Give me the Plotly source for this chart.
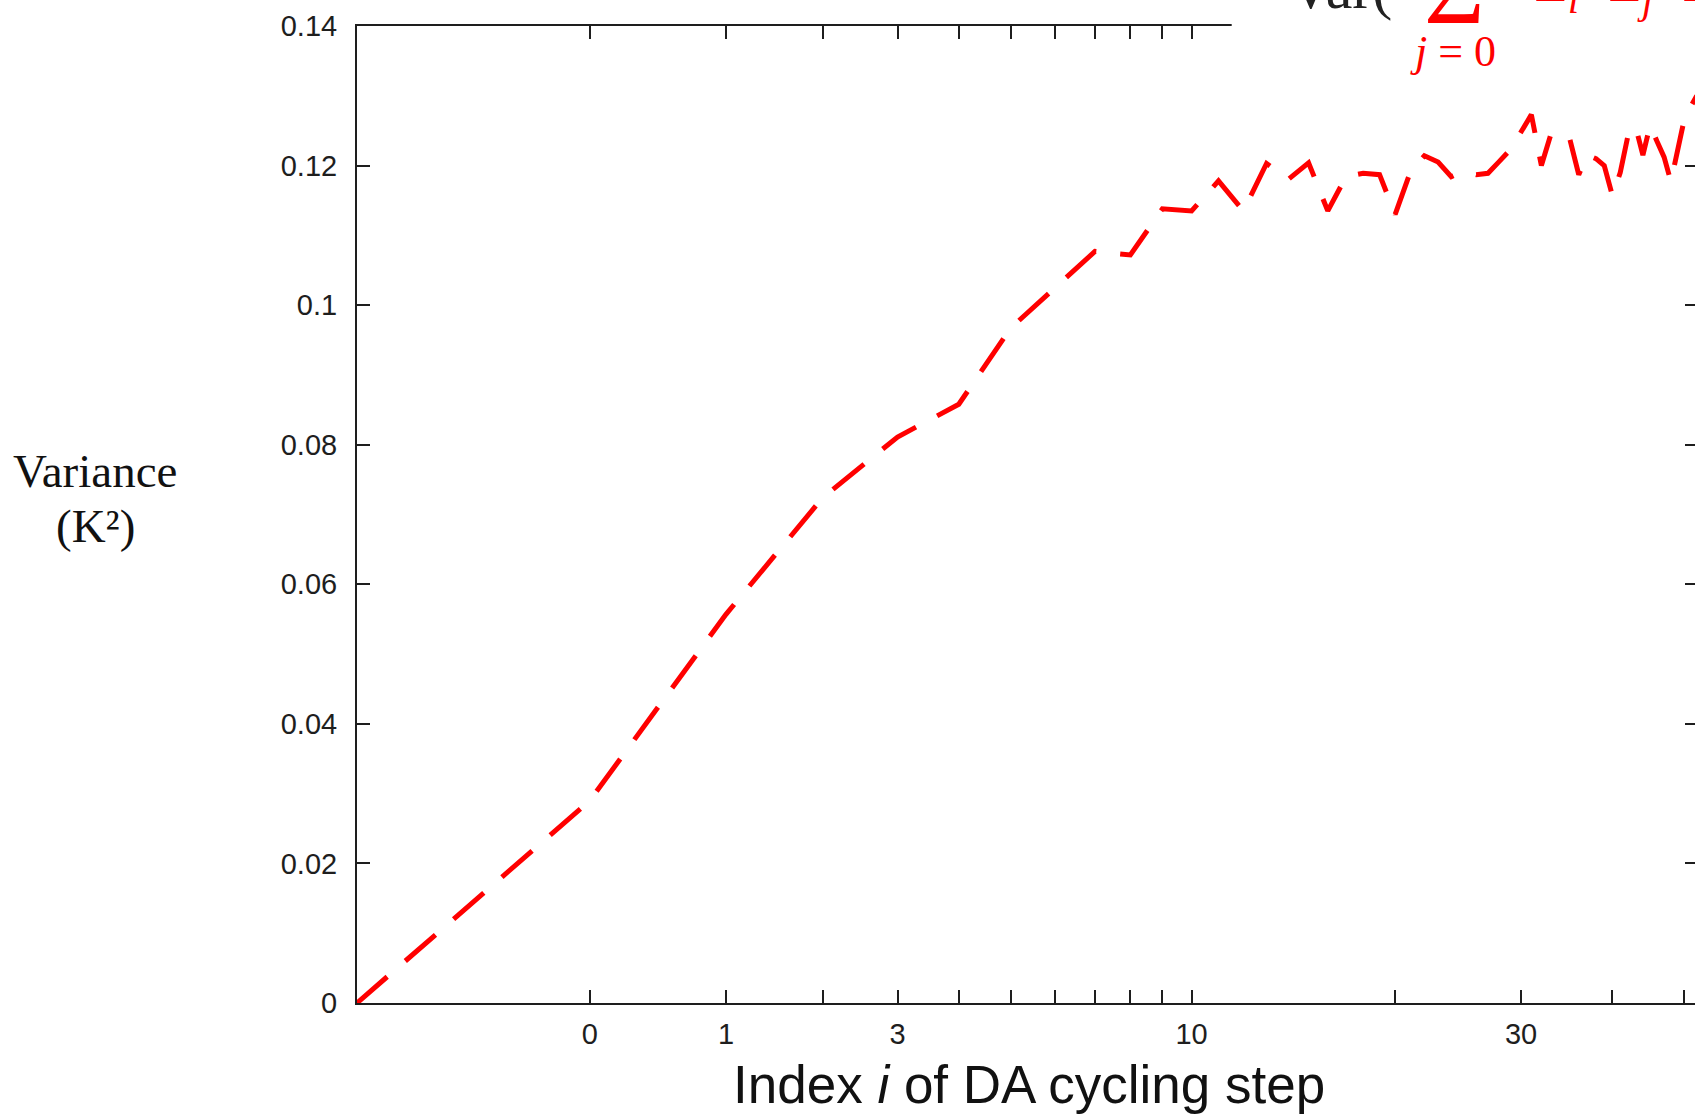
import plotly.graph_objects as go

# ---- data ----
steps = [-1, 0, 1, 2, 3, 4, 5, 6, 7, 8, 9, 10, 11, 12, 13, 14, 15, 16, 17, 18,
         19, 20, 21, 22, 23, 24, 25, 26, 27, 28, 29, 30, 31, 32, 33, 34, 35, 36,
         37, 38, 39, 40, 41, 42, 43, 44, 45, 46, 47, 48, 49, 50, 51, 52]
variance = [0.0, 0.0290, 0.0557, 0.0724, 0.0811, 0.0858, 0.0967, 0.1026, 0.1077,
            0.1072, 0.1138, 0.1135, 0.1178, 0.1135, 0.1203, 0.1180, 0.1204, 0.1135,
            0.1184, 0.1189, 0.1187, 0.1130, 0.1190, 0.1214, 0.1205, 0.1184, 0.1192,
            0.1187, 0.1189, 0.1206, 0.1223, 0.1248, 0.1273, 0.1200, 0.1246, 0.1246,
            0.1238, 0.1187, 0.1215, 0.1210, 0.1200, 0.1157, 0.1190, 0.1243, 0.1256,
            0.1215, 0.1258, 0.1234, 0.1212, 0.1177, 0.1223, 0.1265, 0.1284, 0.1300]

x_tick_steps = [0, 1, 2, 3, 4, 5, 6, 7, 8, 9, 10, 20, 30, 40, 50]
x_tick_labels = ["0", "1", "", "3", "", "", "", "", "", "", "10", "", "30", "", ""]
y_tick_vals = [0, 0.02, 0.04, 0.06, 0.08, 0.10, 0.12, 0.14]
y_tick_labels = ["0", "0.02", "0.04", "0.06", "0.08", "0.1", "0.12", "0.14"]

OFFSET = 2  # the log axis is drawn on (i + 2)
x_vals = [s + OFFSET for s in steps]
x_tick_vals = [s + OFFSET for s in x_tick_steps]

W, H = 1710, 1115
L, R, T, B = 357, 10, 22, 112
PW, PH = W - L - R, H - T - B


def px(xp):
    return (xp - L) / PW


def py(yp):
    return (H - B - yp) / PH


AXC = "#1e1e1e"
TICKF = dict(family="Liberation Sans, Arial, sans-serif", size=29, color="#1e1e1e")

fig = go.Figure()
fig.add_trace(go.Scatter(
    x=x_vals, y=variance, mode="lines",
    line=dict(color="#ff0000", width=5, dash="40px,24px"),
    showlegend=False, hoverinfo="skip"))

fig.update_layout(
    width=W, height=H,
    margin=dict(l=L, r=R, t=T, b=B, pad=0),
    paper_bgcolor="white", plot_bgcolor="white",
    showlegend=False,
    xaxis=dict(type="log", range=[0, 1.734], tickmode="array",
               tickvals=x_tick_vals, ticktext=x_tick_labels,
               ticks="inside", ticklen=13, tickwidth=1.6, tickcolor=AXC,
               showline=True, linecolor=AXC, linewidth=2, mirror="ticks",
               showgrid=False, zeroline=False, tickfont=TICKF,
               ticklabelstandoff=4),
    yaxis=dict(range=[0, 0.14], tickmode="array",
               tickvals=y_tick_vals, ticktext=y_tick_labels,
               ticks="inside", ticklen=13, tickwidth=1.6, tickcolor=AXC,
               showline=True, linecolor=AXC, linewidth=2, mirror="ticks",
               showgrid=False, zeroline=False, tickfont=TICKF,
               ticklabelstandoff=12),
)

# key box (covers the top border on the right, like the gnuplot key)
fig.add_shape(type="rect", xref="paper", yref="paper",
              x0=px(1233), x1=1.02, y0=py(45), y1=py(-30),
              fillcolor="white", line=dict(width=0), layer="above")

SERIF = "Liberation Serif, Times New Roman, serif"
anns = [
    dict(text="Var(", x=px(1396), y=py(-16), xanchor="right", yanchor="middle",
         font=dict(family=SERIF, size=60, color="#222222")),
    dict(text="Σ", x=px(1456), y=py(-17), xanchor="center", yanchor="middle",
         font=dict(family=SERIF, size=104, color="#ff0000")),
    dict(text="<i>j</i> = 0", x=px(1455), y=py(48), xanchor="center", yanchor="middle",
         font=dict(family=SERIF, size=44, color="#ff0000")),
    dict(text="Σ<sub><i>i</i></sub>  Σ<sub><i>j</i></sub>  Σ", x=px(1534), y=py(-19),
         xanchor="left", yanchor="middle",
         font=dict(family=SERIF, size=58, color="#ff0000")),
    dict(text="Variance", x=px(95), y=py(469), xanchor="center", yanchor="middle",
         font=dict(family=SERIF, size=47, color="#111111")),
    dict(text="(K²)", x=px(95), y=py(524), xanchor="center", yanchor="middle",
         font=dict(family=SERIF, size=47, color="#111111")),
    dict(text="Index <i>i</i> of DA cycling step", x=px(1030), y=py(1085),
         xanchor="center", yanchor="middle",
         font=dict(family="Liberation Sans, Arial, sans-serif", size=53, color="#111111")),
]
for a in anns:
    fig.add_annotation(xref="paper", yref="paper", showarrow=False, **a)

fig.write_html("out.html",
               config={"displayModeBar": False},
               post_script="document.body.style.margin='0';"
                           "document.body.style.overflow='hidden';"
                           "document.documentElement.style.overflow='hidden';")
